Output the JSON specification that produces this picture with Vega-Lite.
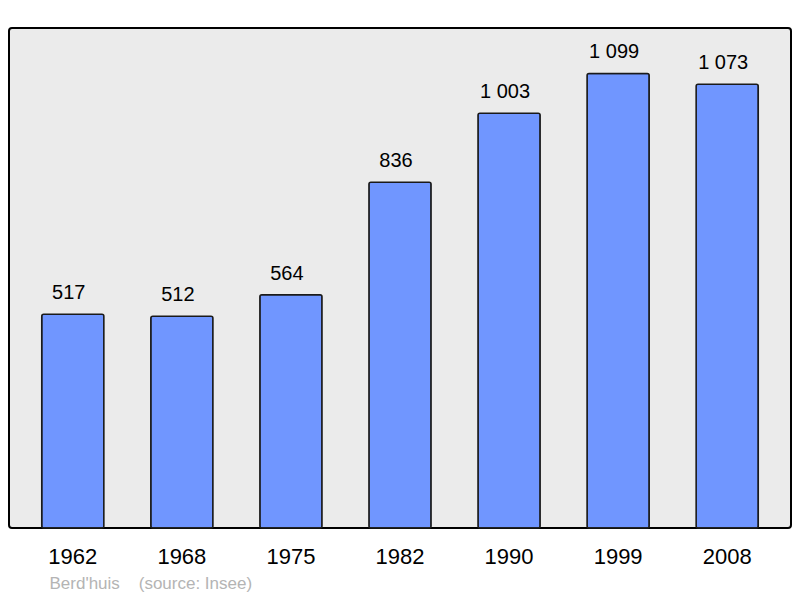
{
  "$schema": "https://vega.github.io/schema/vega-lite/v6.json",
  "width": 782,
  "height": 500,
  "autosize": {"type": "none"},
  "padding": {"left": 9, "top": 28, "right": 9, "bottom": 70},
  "background": "white",
  "data": {
    "values": [
      {"year": "1962", "population": 517},
      {"year": "1968", "population": 512},
      {"year": "1975", "population": 564},
      {"year": "1982", "population": 836},
      {"year": "1990", "population": 1003},
      {"year": "1999", "population": 1099},
      {"year": "2008", "population": 1073}
    ]
  },
  "encoding": {
    "x": {
      "field": "year",
      "type": "ordinal",
      "scale": {"paddingInner": 0.43, "paddingOuter": 0.3},
      "axis": {
        "domain": false,
        "ticks": false,
        "labelAngle": 0,
        "labelFontSize": 22,
        "labelColor": "black",
        "labelPadding": 18,
        "title": "Berd'huis \u00a0\u00a0\u00a0(source: Insee)",
        "titleFontSize": 17,
        "titleFontWeight": "normal",
        "titleColor": "#b4b4b4",
        "titleAlign": "left",
        "titleAnchor": "start",
        "titleBaseline": "top",
        "titleX": 40,
        "titleY": 47
      }
    },
    "y": {
      "field": "population",
      "type": "quantitative",
      "scale": {"domain": [0, 1209], "nice": false},
      "axis": null
    }
  },
  "layer": [
    {
      "mark": {
        "type": "bar",
        "fill": "#7096ff",
        "stroke": "#1a1a1a",
        "strokeWidth": 1.5,
        "cornerRadius": 2
      }
    },
    {
      "mark": {
        "type": "text",
        "fontSize": 20,
        "color": "black",
        "baseline": "alphabetic",
        "dx": -4,
        "dy": -15
      },
      "encoding": {
        "text": {"field": "population", "type": "quantitative", "format": ",d"}
      }
    }
  ],
  "config": {
    "font": "Liberation Sans",
    "locale": {
      "number": {
        "decimal": ",",
        "thousands": "\u00a0",
        "grouping": [3],
        "currency": ["", " €"]
      }
    },
    "view": {
      "fill": "#ebebeb",
      "stroke": "black",
      "strokeWidth": 2,
      "cornerRadius": 3
    }
  }
}
